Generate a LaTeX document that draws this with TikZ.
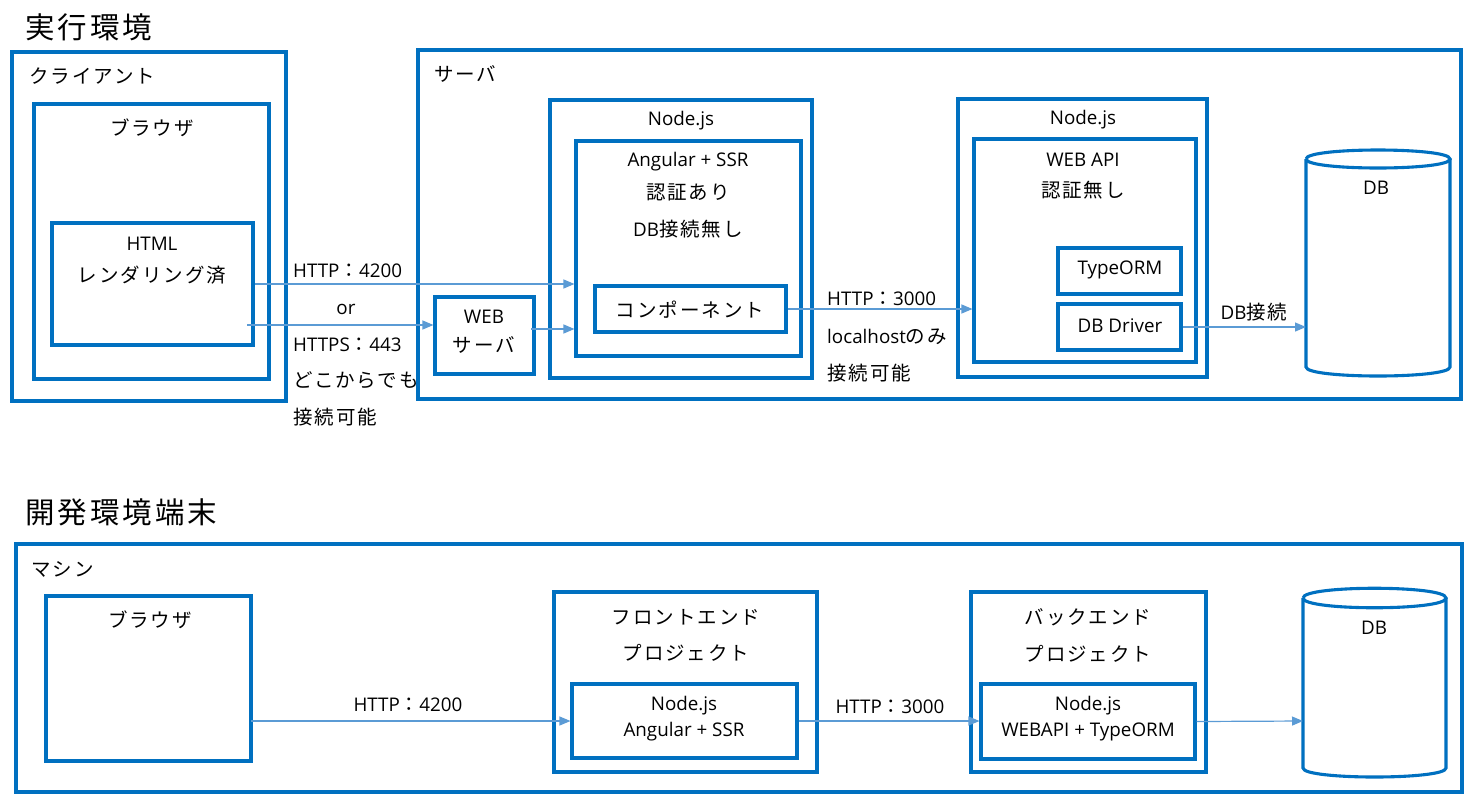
\documentclass[tikz,border=0pt]{standalone}
\usepackage{fontspec}
\setmainfont{Open Sans}
\newfontfamily\jp[LetterSpace=10]{Noto Sans CJK JP}
\usetikzlibrary{arrows.meta,fit,calc}
\definecolor{boxc}{HTML}{0070C0}
\definecolor{arrc}{HTML}{5B9BD5}
\newcommand\J[1]{{\jp\fontsize{19.5}{23}\selectfont #1}}
\newcommand\JT[1]{{\jp\fontsize{29.5}{34}\selectfont #1}}
\begin{document}
\begin{tikzpicture}[x=1pt,y=-1pt,
  box/.style={draw=boxc,line width=3.1pt,inner sep=0pt,fill=none},
  arr/.style={draw=arrc,line width=1.2pt,-{Triangle[length=11pt,width=9pt]}},
  txt/.style={inner sep=0pt,font=\fontsize{18.8}{22}\selectfont,text=black},
  ltxt/.style={txt,anchor=west}]
\useasboundingbox (0,0) rectangle (1464,796);
\fill[white] (0,0) rectangle (1464,796);

% ===== top section =====
\node[ltxt] (title1) at (25,27) {\JT{実行環境}};
\node[box,fit={(12,52)(286,401)}] (client) {};
\node[ltxt] (clientl) at (29,76) {\J{クライアント}};
\node[box,fit={(34,104)(269,379)}] (browser) {};
\node[txt] (browserl) at (152,128) {\J{ブラウザ}};
\node[box,fit={(52,223)(253,345)}] (html) {};
\node[txt] (htmll) at (152,244) {HTML};
\node[txt] (htmll2) at (152,275) {\J{レンダリング済}};

\node[box,fit={(418,50)(1461,399)}] (server) {};
\node[ltxt] (serverl) at (434,74) {\J{サーバ}};
\node[box,fit={(435,297)(534,374)}] (websrv) {};
\node[txt] (websrvl) at (484,317) {WEB};
\node[txt] (websrvl2) at (484,345) {\J{サーバ}};

\node[box,fit={(550,100)(812,378)}] (node1) {};
\node[txt] (node1l) at (681,121) {Node.js};
\node[box,fit={(576,141)(801,356)}] (ang) {};
\node[txt] (angl) at (688,162) {Angular + SSR};
\node[txt] (angl2) at (688,192) {\J{認証あり}};
\node[txt] (angl3) at (688,229) {DB\J{接続無し}};
\node[box,fit={(595,286)(786,332)}] (comp) {};
\node[txt] (compl) at (690,310) {\J{コンポーネント}};

\node[box,fit={(958,99)(1207,377)}] (node2) {};
\node[txt] (node2l) at (1083,120) {Node.js};
\node[box,fit={(974,139)(1196,362)}] (webapi) {};
\node[txt] (webapil) at (1083,160) {WEB API};
\node[txt] (webapil2) at (1083,190) {\J{認証無し}};
\node[box,fit={(1058,248)(1181,294)}] (typeorm) {};
\node[txt] (typeorml) at (1120,270) {TypeORM};
\node[box,fit={(1058,304)(1181,350)}] (dbdrv) {};
\node[txt] (dbdrvl) at (1120,326) {DB Driver};

% DB cylinder 1
\draw[box] (1306,159) -- (1306,367) .. controls (1306,379) and (1450,379) .. (1450,367) -- (1450,159);
\draw[box] (1306,159) .. controls (1306,147) and (1450,147) .. (1450,159)
                      .. controls (1450,171) and (1306,171) .. (1306,159);
\coordinate (db1w) at (1306,327);
\node[txt] (db1l) at (1376,188) {DB};

% connector labels top
\node[ltxt] (lab1) at (293,271) {HTTP\J{：}4200};
\node[txt] (lab2) at (346,309) {or};
\node[ltxt] (lab3) at (293,345) {HTTPS\J{：}443};
\node[ltxt] (lab4) at (293,380) {\J{どこからでも}};
\node[ltxt] (lab5) at (293,417) {\J{接続可能}};
\node[ltxt] (lab6) at (827,299) {HTTP\J{：}3000};
\node[ltxt] (lab7) at (827,337) {localhost\J{のみ}};
\node[ltxt] (lab8) at (827,373) {\J{接続可能}};
\node[txt] (lab9) at (1254,312) {DB\J{接続}};

% arrows top
\draw[arr] (html.east) -- (html.east -| ang.west);
\coordinate (a2s) at (247,325);
\draw[arr] (a2s) -- (a2s -| websrv.west);
\coordinate (a3s) at (531,329);
\draw[arr] (a3s) -- (a3s -| ang.west);
\draw[arr] (comp.east) -- (comp.east -| webapi.west);
\draw[arr] (dbdrv.east) -- (db1w);

% ===== bottom section =====
\node[ltxt] (title2) at (25,512) {\JT{開発環境端末}};
\node[box,fit={(16,544)(1462,792)}] (machine) {};
\node[ltxt] (machinel) at (31,569) {\J{マシン}};
\node[box,fit={(46,596)(251,761)}] (browser2) {};
\node[txt] (browser2l) at (150,620) {\J{ブラウザ}};

\node[box,fit={(554,592)(817,772)}] (front) {};
\node[txt] (frontl) at (686,617) {\J{フロントエンド}};
\node[txt] (frontl2) at (686,653) {\J{プロジェクト}};
\node[box,fit={(572,684)(797,758)}] (fnode) {};
\node[txt] (fnodel) at (684,706) {Node.js};
\node[txt] (fnodel2) at (684,732) {Angular + SSR};

\node[box,fit={(971,592)(1206,772)}] (back) {};
\node[txt] (backl) at (1088,617) {\J{バックエンド}};
\node[txt] (backl2) at (1088,654) {\J{プロジェクト}};
\node[box,fit={(981,684)(1195,759)}] (bnode) {};
\node[txt] (bnodel) at (1088,706) {Node.js};
\node[txt] (bnodel2) at (1088,732) {WEBAPI + TypeORM};

% DB cylinder 2
\draw[box] (1303,598) -- (1303,768) .. controls (1303,780) and (1446,780) .. (1446,768) -- (1446,598);
\draw[box] (1303,598) .. controls (1303,585) and (1446,585) .. (1446,598)
                      .. controls (1446,611) and (1303,611) .. (1303,598);
\coordinate (db2w) at (1303,721);
\node[txt] (db2l) at (1374,628) {DB};

\node[txt] (blab1) at (408,705) {HTTP\J{：}4200};
\node[txt] (blab2) at (890,707) {HTTP\J{：}3000};

\coordinate (b1s) at (251,721);
\draw[arr] (b1s) -- (b1s -| fnode.west);
\draw[arr] (fnode.east) -- (fnode.east -| bnode.west);
\draw[arr] (bnode.east) -- (db2w);
\end{tikzpicture}
\end{document}
